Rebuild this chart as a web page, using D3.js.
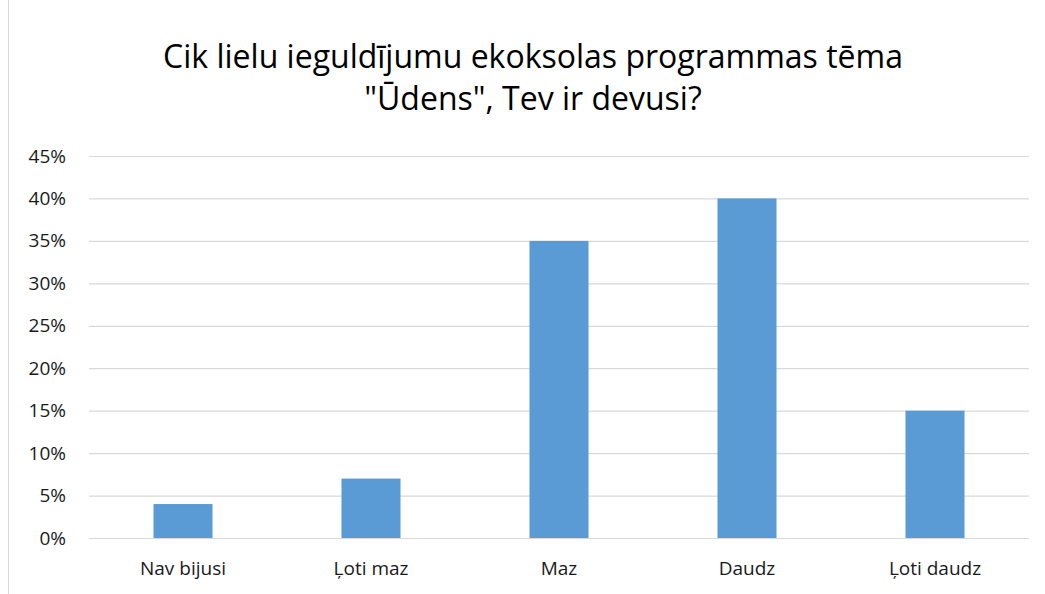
<!DOCTYPE html>
<html>
<head>
<meta charset="utf-8">
<script src="https://cdn.jsdelivr.net/npm/d3@7"></script>
<style>
  html, body { margin: 0; padding: 0; background: #fff; }
  svg { display: block; font-family: "Open Sans", "Noto Sans", sans-serif; }
</style>
</head>
<body>
<div id="chart"></div>
<script>
// Chart data
const titleLines = ["Cik lielu ieguldījumu ekoksolas programmas tēma", "\"Ūdens\", Tev ir devusi?"];
const categories = ["Nav bijusi", "Ļoti maz", "Maz", "Daudz", "Ļoti daudz"];
const values = [0.04, 0.07, 0.35, 0.40, 0.15];
const yTicks = [0, 0.05, 0.10, 0.15, 0.20, 0.25, 0.30, 0.35, 0.40, 0.45];

const W = 1045, H = 594;
const margin = { top: 156, right: 16, bottom: 56, left: 89 };
const width = W - margin.left - margin.right;
const height = H - margin.top - margin.bottom;

const svg = d3.select("#chart").append("svg")
  .attr("width", W).attr("height", H);

// chart frame (only the left edge shows in the screenshot)
svg.append("line")
  .attr("x1", 8.5).attr("x2", 8.5).attr("y1", 0).attr("y2", H)
  .attr("stroke", "#d9d9d9").attr("stroke-width", 1);

// Title
const title = svg.append("text")
  .attr("text-anchor", "middle")
  .attr("font-size", 32)
  .attr("fill", "#000");
titleLines.forEach((t, i) => {
  title.append("tspan").attr("x", 533).attr("y", 68 + i * 42).text(t);
});

const g = svg.append("g").attr("transform", `translate(${margin.left},${margin.top})`);

const x = d3.scaleBand().domain(categories).range([0, width]).paddingInner(0.686).paddingOuter(0.343);
const y = d3.scaleLinear().domain([0, 0.45]).range([height, 0]);

// gridlines + y labels
const yAxis = g.append("g")
  .call(d3.axisLeft(y).tickValues(yTicks).tickFormat(d3.format(".0%")).tickSize(-width).tickPadding(23));
yAxis.select(".domain").remove();
yAxis.selectAll(".tick line").attr("stroke", "#d9d9d9").attr("stroke-width", 1.2);
yAxis.selectAll(".tick text").attr("font-size", 19).attr("fill", "#1a1a1a")
  .attr("font-family", "\"Open Sans\", sans-serif");

// Bars
g.selectAll("rect.bar")
  .data(categories)
  .join("rect")
  .attr("class", "bar")
  .attr("x", d => x(d))
  .attr("width", x.bandwidth())
  .attr("y", (d, i) => y(values[i]))
  .attr("height", (d, i) => height - y(values[i]))
  .attr("fill", "#5b9bd5");

// x labels
const xAxis = g.append("g")
  .attr("transform", `translate(0,${height})`)
  .call(d3.axisBottom(x).tickSize(0).tickPadding(24));
xAxis.select(".domain").remove();
xAxis.selectAll(".tick text").attr("font-size", 19).attr("fill", "#1a1a1a")
  .attr("font-family", "\"Open Sans\", sans-serif");
</script>
</body>
</html>
